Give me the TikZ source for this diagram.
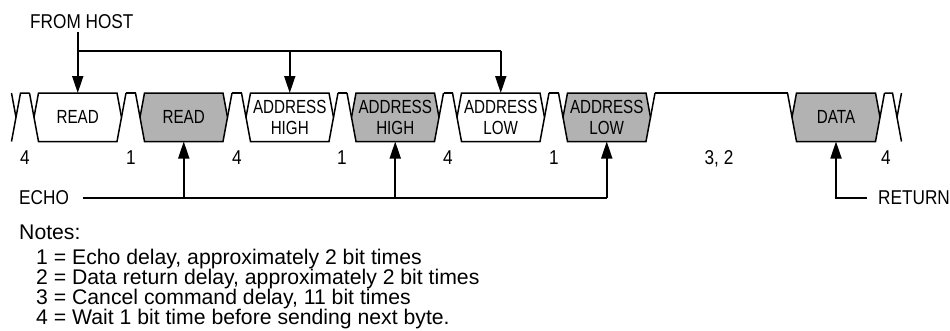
\documentclass[tikz,border=0pt]{standalone}
\usepackage{fontspec}
\setmainfont{Liberation Sans}
\newfontfamily\labsans[FakeStretch=0.86]{Liberation Sans}
\newfontfamily\boxsans[FakeStretch=0.80]{Liberation Sans}
\usetikzlibrary{arrows.meta,calc}
\definecolor{busgrey}{gray}{0.70}
\tikzset{
  busline/.style={line width=1.5pt, line join=miter},
  conn/.style={line width=1.8pt},
  arr/.style={line width=1.8pt, -{Triangle[length=17pt,width=11pt]}},
  bytebox/.style={inner sep=0pt, outer sep=0pt, minimum height=48.5pt},
  boxtext/.style={inner sep=0pt, align=center, font=\boxsans\fontsize{19}{21}\selectfont},
  lab/.style={inner sep=0pt, font=\labsans\fontsize{20}{22}\selectfont},
  note/.style={inner sep=0pt, anchor=base west, font=\fontsize{21.2}{20}\selectfont},
}
\newcommand\busbyte[5]{%
  \node[bytebox, minimum width={#3-#2}] (#1) at ({(#2+#3)/2},117.25) {};
  \draw[busline, fill=#4] (#1.west) -- ([xshift=4.5pt]#1.north west) -- ([xshift=-4.5pt]#1.north east)
     -- (#1.east) -- ([xshift=-4.5pt]#1.south east) -- ([xshift=4.5pt]#1.south west) -- cycle;
  \draw[busline] ([xshift=-4.5pt]#1.north west) -- (#1.west) (#1.east) -- ([xshift=4.5pt]#1.north east);
  \node[boxtext] (#1-t) at (#1) {#5};
}
\newcommand\idle[2]{\draw[busline] ([xshift=4.5pt]#1.north east) -- ([xshift=-4.5pt]#2.north west);}
\begin{document}
\begin{tikzpicture}[x=1pt,y=-1pt]
\useasboundingbox (0,0) rectangle (950,330);
% bus bytes
\busbyte{rdw}{34}{121.5}{white}{READ}
\busbyte{rdg}{140}{227.5}{busgrey}{READ}
\busbyte{ahw}{246}{333.5}{white}{ADDRESS\\HIGH}
\busbyte{ahg}{351.5}{439}{busgrey}{ADDRESS\\HIGH}
\busbyte{alw}{457}{544.5}{white}{ADDRESS\\LOW}
\busbyte{alg}{563}{650.5}{busgrey}{ADDRESS\\LOW}
\busbyte{data}{792}{880}{busgrey}{DATA}
% previous byte end (partial) and next byte start (partial)
\coordinate (prevtip) at (16,117.25);
\coordinate (nexttip) at (897,117.25);
\draw[busline] ($(prevtip)+(-4.5,-24.25)$) -- (prevtip);
\draw[busline] ($(prevtip)+(-4.5,24.25)$) -- ($(prevtip)+(4.5,-24.25)$) -- ([xshift=-4.5pt]rdw.north west);
\draw[busline] ([xshift=4.5pt]data.north east) -- ($(nexttip)+(-4.5,-24.25)$) -- ($(nexttip)+(4.5,24.25)$);
\draw[busline] (nexttip) -- ($(nexttip)+(4.5,-24.25)$);
% idle lines
\idle{rdw}{rdg}
\idle{rdg}{ahw}
\idle{ahw}{ahg}
\idle{ahg}{alw}
\idle{alw}{alg}
\idle{alg}{data}
% delay labels
\node[lab, anchor=base] (d1) at (25,164) {4};
\node[lab, anchor=base] (d2) at (131,164) {1};
\node[lab, anchor=base] (d3) at (237,164) {4};
\node[lab, anchor=base] (d4) at (342,164) {1};
\node[lab, anchor=base] (d5) at (448,164) {4};
\node[lab, anchor=base] (d6) at (554,164) {1};
\node[lab, anchor=base] (d7) at (719,164) {3, 2};
\node[lab, anchor=base] (d8) at (886,164) {4};
% from host
\node[lab, anchor=base west] (host) at (30,28) {FROM HOST};
\coordinate (hosttail) at ([yshift=-4pt]host.south);
\coordinate (hostbus) at (0,51);
\draw[arr] (hosttail -| rdw.north) -- (rdw.north);
\draw[conn] (hostbus -| rdw.north) -- (hostbus -| alw.north);
\draw[arr] (hostbus -| ahw.north) -- (ahw.north);
\draw[arr] (hostbus -| alw.north) -- (alw.north);
% echo
\node[lab, anchor=west] (echo) at (19,198) {ECHO};
\draw[conn] ([xshift=14pt]echo.east) -- (echo.east -| alg.south);
\draw[arr] (echo.east -| rdg.south) -- (rdg.south);
\draw[arr] (echo.east -| ahg.south) -- (ahg.south);
\draw[arr] (echo.east -| alg.south) -- (alg.south);
% return
\node[lab, anchor=west] (ret) at (878,198) {RETURN};
\draw[arr] ([xshift=-11pt]ret.west) -| (data.south);
% notes
\node[note] (n0) at (19,239) {Notes:};
\node[note] (n1) at (36,264) {1 = Echo delay, approximately 2 bit times};
\node[note] (n2) at (36,284) {2 = Data return delay, approximately 2 bit times};
\node[note] (n3) at (36,304) {3 = Cancel command delay, 11 bit times};
\node[note] (n4) at (36,324) {4 = Wait 1 bit time before sending next byte.};
\end{tikzpicture}
\end{document}
